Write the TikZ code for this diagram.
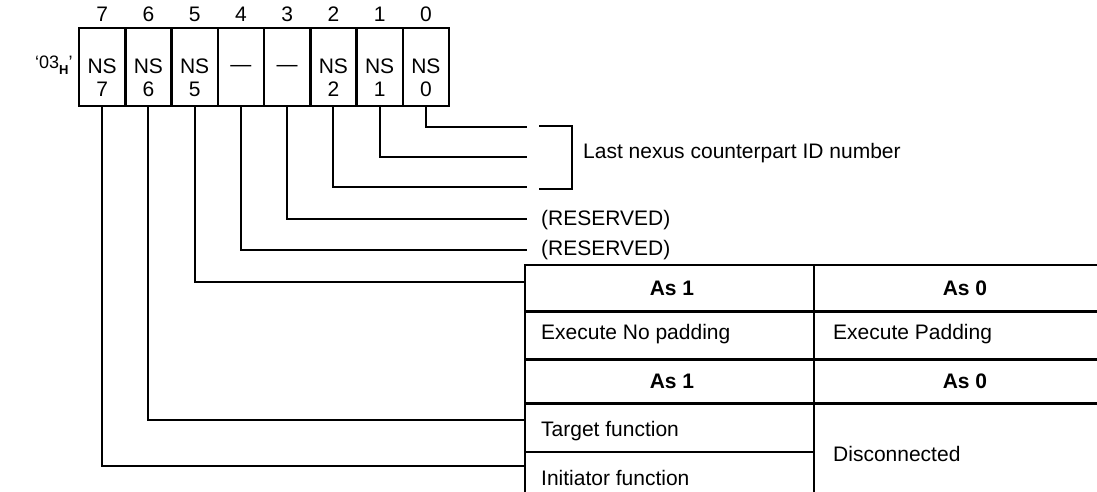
\documentclass[tikz,border=0pt]{standalone}
\usepackage{fontspec}
\setmainfont{Liberation Sans}
\begin{document}
\begin{tikzpicture}[x=1pt,y=-1pt,
  conn/.style={line width=2.2pt},
  cellbox/.style={draw, line width=2.5pt, minimum width=46.25pt, minimum height=78pt, inner sep=0pt, outer sep=0pt, anchor=north west},
  txt/.style={inner sep=0pt, anchor=base west, font=\fontsize{21}{25}\selectfont},
  ctxt/.style={inner sep=0pt, anchor=base, font=\fontsize{21}{25}\selectfont},
  btxt/.style={inner sep=0pt, anchor=base, font=\fontsize{21}{25}\selectfont\bfseries},
  rowline/.style={line width=3pt},
  tline/.style={line width=2.3pt}]
\useasboundingbox (0,0) rectangle (1097,492);

% register label
\node[txt] (reg) at (35,69) {\fontsize{18}{22}\selectfont ‘03\raisebox{-0.3em}{\fontsize{13}{13}\selectfont\bfseries H}’};

% bit cells
\foreach \i in {0,...,7} {
  \node[cellbox] (b\i) at ({79+(7-\i)*46.25},28) {};
  \node[ctxt] (n\i) at ({79+(7-\i)*46.25+23.125},22) {\i};
}
\foreach \i in {0,1,2,5,6,7} {
  \node[ctxt] (s\i) at ({79+(7-\i)*46.25+23.125},74) {NS};
  \node[ctxt] (d\i) at ({79+(7-\i)*46.25+23.125},97) {\i};
}
\foreach \i in {3,4} {
  \node[ctxt] (s\i) at ({79+(7-\i)*46.25+23.125},72) {—};
}

% connector end points
\coordinate (e0) at (527,127);
\coordinate (e1) at (527,157);
\coordinate (e2) at (527,187);
\coordinate (e3) at (527,219);
\coordinate (e4) at (527,250);
\coordinate (e5) at (525,282);
\coordinate (e6) at (525,420);
\coordinate (e7) at (525,466);

\foreach \i in {0,...,7} {
  \draw[conn] (b\i.south) |- (e\i);
}

% bracket
\coordinate (brA) at (539,126);
\coordinate (brB) at (572,126);
\coordinate (brC) at (572,189);
\coordinate (brD) at (539,189);
\draw[conn] (brA) -- (brB) -- (brC) -- (brD);
\node[txt] (last) at (583,158) {Last nexus counterpart ID number};

\node[txt] (res3) at (541,225) {(RESERVED)};
\node[txt] (res4) at (541,255) {(RESERVED)};

% table
\coordinate (tl) at (525,265);
\coordinate (tm) at (814,265);
\draw[tline] (525,265) -- (525,492);
\draw[tline] (814,265) -- (814,492);
\draw[tline] (523.85,265) -- (1097,265);
\draw[rowline] (525,311) -- (1097,311);
\draw[rowline] (525,359) -- (1097,359);
\draw[rowline] (525,403) -- (1097,403);
\draw[tline] (525,452) -- (815.15,452);

\node[btxt] (h1a) at (672,295) {As 1};
\node[btxt] (h0a) at (965,295) {As 0};
\node[txt] (enp) at (541,339) {Execute No padding};
\node[txt] (ep) at (833,339) {Execute Padding};
\node[btxt] (h1b) at (672,388) {As 1};
\node[btxt] (h0b) at (965,388) {As 0};
\node[txt] (tf) at (541,436) {Target function};
\node[txt] (if) at (541,485) {Initiator function};
\node[txt] (dc) at (833,461) {Disconnected};
\end{tikzpicture}
\end{document}
